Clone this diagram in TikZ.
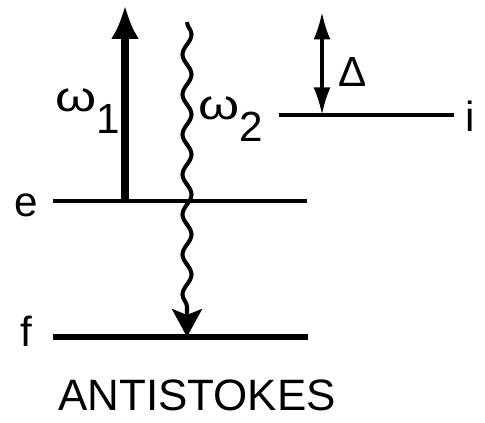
\documentclass[tikz,border=0pt]{standalone}
\usepackage{fontspec}
\setmainfont{Liberation Sans}
\usetikzlibrary{arrows.meta,decorations.pathmorphing}

\begin{document}
\begin{tikzpicture}[
		level/.style={line width=2.6pt},
		lbl/.style={font=\fontsize{24}{26}\selectfont, inner sep=0pt},
		photon/.style={line width=2.3pt, decorate,
			decoration={snake, amplitude=0.09cm, segment length=0.8cm, post length=0.5cm}}
	]
		\useasboundingbox (0,0) rectangle (9.7,8.46);

		% levels
		\coordinate (e1) at (1.06, 4.44);
		\coordinate (e2) at (6.14, 4.44);
		\coordinate (f1) at (1.06, 1.72);
		\coordinate (f2) at (6.16, 1.72);
		\coordinate (i1) at (5.58, 6.16);
		\coordinate (i2) at (9.08, 6.16);
		\draw [level] (e1) -- (e2);
		\draw [level, line width=3.4pt] (f1) -- (f2);
		\draw [line width=1.8pt] (i1) -- (i2);
		\node [lbl, anchor=base] (elab) at (0.52, 4.12) {e};
		\node [lbl, anchor=base] (flab) at (0.52, 1.52) {f};
		\node [lbl, anchor=base] (ilab) at (9.4, 5.82) {i};

		% pump photon omega_1
		\coordinate (w1b) at (2.5, 4.44);
		\coordinate (w1t) at (2.5, 8.36);
		\draw [line width=4.5pt, -{Latex[length=0.68cm, width=0.56cm]}] (w1b) -- (w1t);
		\node [lbl, anchor=base west] (w1lab) at (1.1, 6.22) {\scalebox{1.25}[1]{ω}\raisebox{-0.5em}{1}};

		% emitted photon omega_2
		\coordinate (w2t) at (3.74, 8.02);
		\coordinate (w2b) at (3.74, 1.72);
		\draw [photon, -{Stealth[length=0.56cm, width=0.6cm, inset=0.12cm]}] (w2t) -- (w2b);
		\node [lbl, anchor=base west] (w2lab) at (3.96, 6.06) {\scalebox{1.25}[1]{ω}\raisebox{-0.5em}{2}};

		% detuning
		\coordinate (dt) at (6.44, 8.22);
		\coordinate (db) at (6.44, 6.16);
		\draw [line width=1.8pt, {Latex[length=0.55cm, width=0.34cm]}-{Latex[length=0.55cm, width=0.34cm]}] (dt) -- (db);
		\node [lbl, anchor=base] (dlab) at (7.06, 6.72) {Δ};

		\node [font=\fontsize{25}{27}\selectfont, inner sep=0pt] (title) at (3.94, 0.56) {ANTISTOKES};
	\end{tikzpicture}
\end{document}
